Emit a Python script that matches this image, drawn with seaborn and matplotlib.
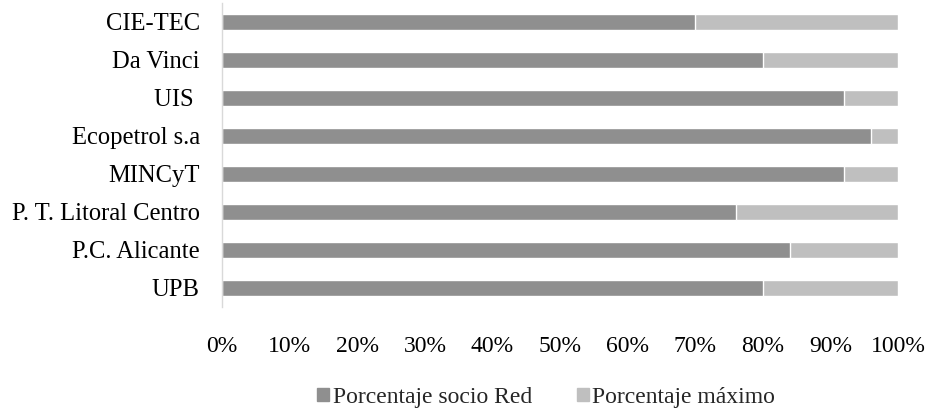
import pandas as pd
import matplotlib.pyplot as plt
import seaborn as sns
from matplotlib.patches import Patch
from matplotlib.ticker import PercentFormatter

categorias = ["CIE-TEC", "Da Vinci", "UIS ", "Ecopetrol s.a", "MINCyT",
              "P. T. Litoral Centro", "P.C. Alicante", "UPB"]
socio_red = [70, 80, 92, 96, 92, 76, 84, 80]
maximo = [30, 20, 8, 4, 8, 24, 16, 20]

df = pd.DataFrame({"Entidad": categorias, "Porcentaje socio Red": socio_red,
                   "Porcentaje máximo": maximo})
df["Total"] = df["Porcentaje socio Red"] + df["Porcentaje máximo"]

sns.set_style("white")
plt.rcParams["font.family"] = ["Liberation Serif", "DejaVu Serif"]

oscuro = "#8f8f8f"
claro = "#bfbfbf"
fs = 17

fig = plt.figure(figsize=(9.29, 4.12), dpi=100)
ax = fig.add_axes([0.239, 0.255, 0.728, 0.738])

sns.barplot(data=df, y="Entidad", x="Total", color=claro, width=0.42,
            saturation=1, ax=ax, orient="h")
sns.barplot(data=df, y="Entidad", x="Porcentaje socio Red", color=oscuro,
            width=0.42, saturation=1, ax=ax, orient="h")

ax.set_xlim(0, 100)
ax.set_xticks(range(0, 101, 10))
ax.xaxis.set_major_formatter(PercentFormatter(decimals=0))
ax.set_xlabel("")
ax.set_ylabel("")
ax.tick_params(axis="both", length=0, colors="black")
ax.tick_params(axis="x", pad=21, labelsize=fs)
ax.tick_params(axis="y", pad=16, labelsize=17.7)

for s in ["top", "right", "bottom"]:
    ax.spines[s].set_visible(False)
ax.spines["left"].set_color("#d9d9d9")
ax.spines["left"].set_linewidth(1)

handles = [Patch(color=oscuro, label="Porcentaje socio Red"),
           Patch(color=claro, label="Porcentaje máximo")]
fig.legend(handles=handles, loc="center", bbox_to_anchor=(0.588, 0.035),
           ncol=2, frameon=False, fontsize=fs, handlelength=0.5,
           handleheight=0.5, handletextpad=0.15, columnspacing=1.9)

fig.savefig("out.png", dpi=100)
